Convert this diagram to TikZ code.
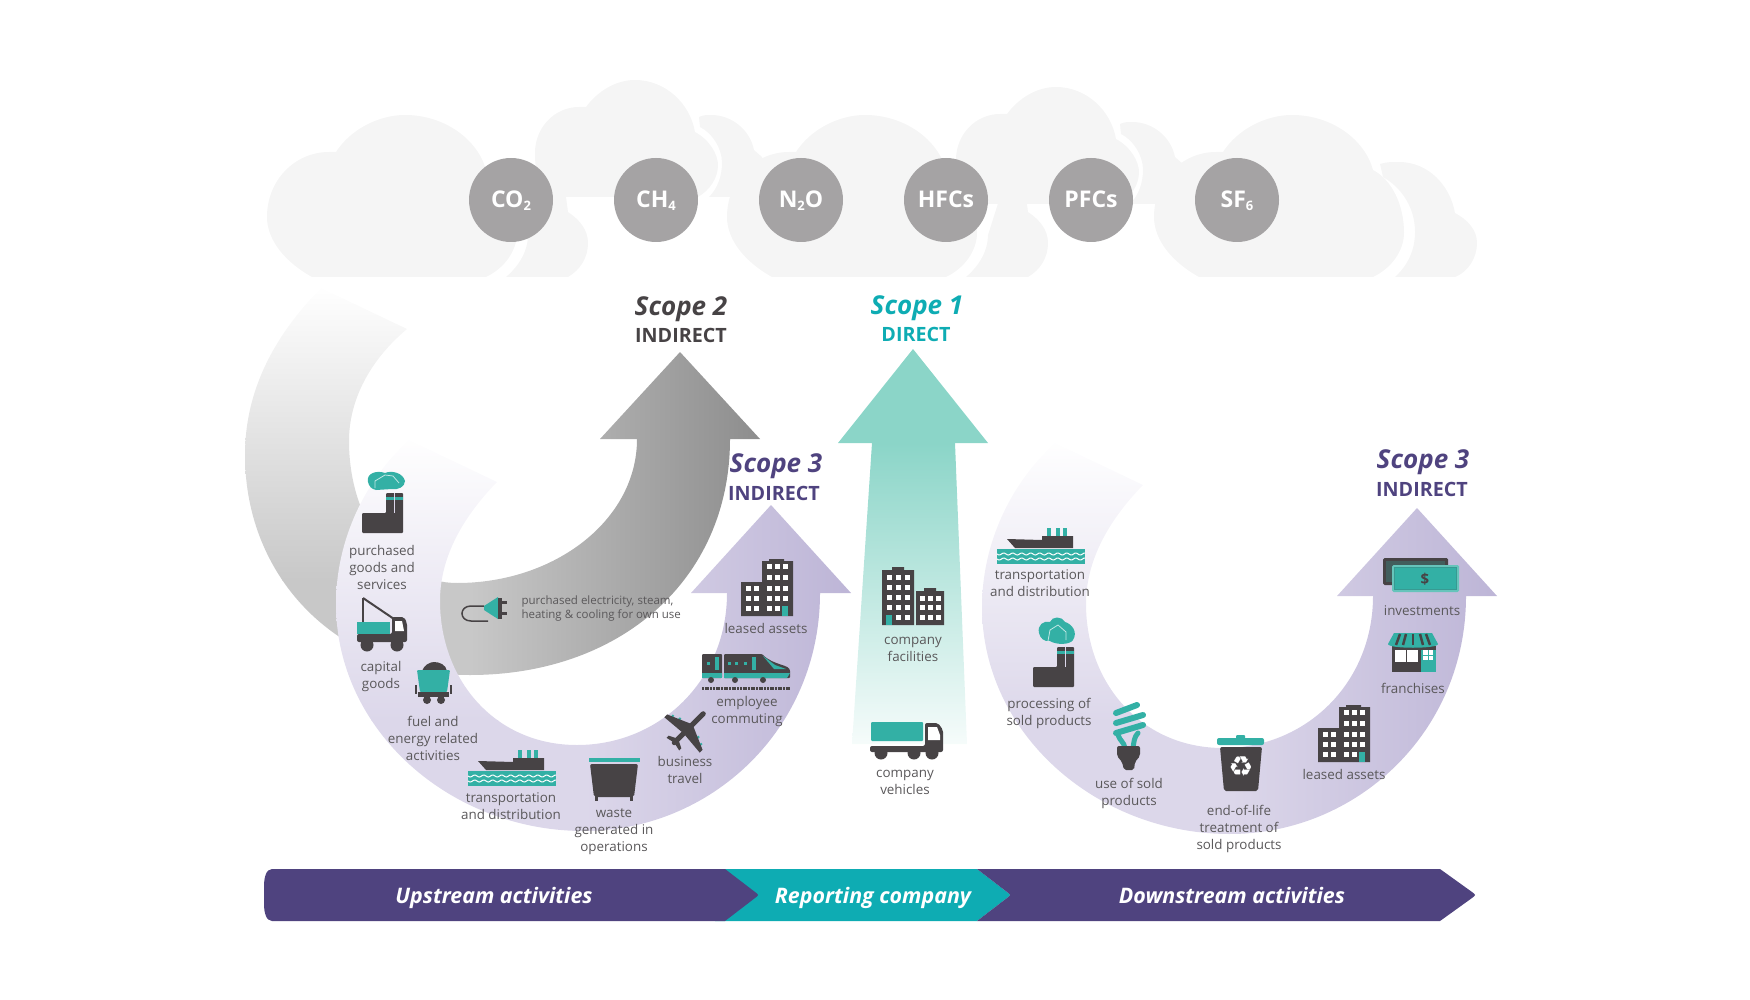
\documentclass[tikz,border=0pt]{standalone}
\usepackage{fontspec}
\setmainfont{Open Sans}
\newfontfamily\symbfont{DejaVu Sans}
\usepackage{xcolor}
\definecolor{darkicon}{HTML}{474345}
\definecolor{tealicon}{HTML}{33B0A5}
\definecolor{tealband}{HTML}{0EACB3}
\definecolor{purpleband}{HTML}{4F437F}
\definecolor{gasgray}{HTML}{A5A3A4}
\definecolor{cloudgray}{HTML}{F5F5F5}
\definecolor{labelgray}{HTML}{5A585A}
\definecolor{mintarrow}{HTML}{8BD5C8}
\definecolor{purplemid}{HTML}{DCD7EA}
\definecolor{purpleright}{HTML}{BCB4D6}
\definecolor{graymid}{HTML}{C8C8C8}
\definecolor{grayright}{HTML}{8C8C8C}
\newcommand{\gassub}[1]{\raisebox{-3pt}{\fontsize{13}{13}\selectfont #1}}
\tikzset{
  gas/.style={circle, fill=gasgray, minimum size=84pt, inner sep=0pt, text=white, text height=16pt, text depth=0pt, font=\bfseries\fontsize{23}{25}\selectfont},
  lbl/.style={align=center, text=labelgray, font=\fontsize{13.4}{17}\selectfont},
  scopename/.style={font=\bfseries\itshape\fontsize{26}{28}\selectfont},
  scopekind/.style={font=\bfseries\fontsize{19.7}{22}\selectfont},
  bandtext/.style={text=white, text height=16pt, text depth=0pt, font=\bfseries\itshape\fontsize{21.4}{24}\selectfont},
  pics/bigcloud/.style={code={
    \fill[cloudgray] (312,277) .. controls (285,262) and (267,240) .. (267,217) .. controls (267,180) and (295,152) .. (329,152) -- (336,152) .. controls (350,130) and (378,115) .. (405,115) .. controls (445,115) and (478,140) .. (486,170) .. controls (505,180) and (517,205) .. (517,233) .. controls (517,250) and (505,268) .. (486,277) -- cycle;
  }},
  pics/cloudtail/.style={code={
    \fill[cloudgray] (506,277) .. controls (520,265) and (528,250) .. (528,235) -- (540,197) -- (566,197) -- (568,212) .. controls (580,220) and (588,230) .. (588,243) .. controls (588,258) and (580,270) .. (568,277) -- cycle;
  }},
  pics/topcloud/.style={code={
    \fill[cloudgray] (545,197) .. controls (538,185) and (535,170) .. (535,153) .. controls (535,127) and (555,107) .. (579,107) -- (586,107) .. controls (597,92) and (615,80) .. (635,80) .. controls (665,80) and (690,103) .. (695,132) .. controls (710,140) and (718,155) .. (718,165) .. controls (718,178) and (710,190) .. (698,197) -- cycle;
    \fill[cloudgray] (709,197) .. controls (718,188) and (722,175) .. (722,163) .. controls (722,148) and (712,133) .. (700,127) -- (699,117) .. controls (703,115) and (707,115) .. (711,115) .. controls (732,115) and (750,130) .. (754,150) -- (762,157) -- (762,197) -- cycle;
  }},
  pics/uturn/.style={code={
    \begin{scope}
      \clip (409,440) .. controls (365,480) and (336,540) .. (336,604) .. controls (336,730) and (450,831) .. (584,831) .. controls (710,831) and (820,730) .. (820,593) -- (851,593) -- (771,505) -- (691,593) -- (727,593) .. controls (727,680) and (660,745) .. (577,745) .. controls (495,745) and (440,680) .. (440,601) .. controls (440,560) and (460,520) .. (497,482) -- cycle;
      \shade[top color=white, bottom color=purplemid] (325,435) rectangle (585,720);
      \fill[purplemid] (325,720) rectangle (585,835);
      \shade[left color=purplemid, right color=purpleright] (585,500) rectangle (860,835);
    \end{scope}
  }},
  pics/block/.style={code={
    \fill[darkicon] (21,23) -- (21,2) -- (28,2) -- (28,0) -- (43,0) -- (43,2) -- (52,2) -- (52,57) -- (0,57) -- (0,23) -- cycle;
    \foreach \wx in {28,36,44} \foreach \wy in {7,18,29,39,49} \fill[white] (\wx-2.5,\wy-2.5) rectangle +(5,5);
    \foreach \wx in {7,15} \foreach \wy in {29,39,49} \fill[white] (\wx-2.5,\wy-2.5) rectangle +(5,5);
    \fill[tealicon] (41,47) rectangle (47,57);
  }},
  pics/factory/.style={code={
    \fill[darkicon, rounded corners=1pt] (0,20) -- (24,20) -- (24,0) -- (41,0) -- (41,40) -- (0,40) -- cycle;
    \fill[tealicon] (24,4) rectangle (41,7);
    \fill[purplemid] (31.5,0) rectangle (33,20);
  }},
  pics/ship/.style={code={
    \foreach \fx in {50,59,66} \fill[tealicon] (\fx,0) rectangle +(3.5,8);
    \fill[darkicon] (10,11) -- (45,12) -- (45,8) -- (76,8) -- (76,20) -- (18,20) -- cycle;
    \fill[tealicon] (0,21) rectangle (88,36);
    \draw[white, line width=1pt] plot[domain=0:88, samples=70] (\x,{26+sin(\x*40)});
    \draw[white, line width=1pt] plot[domain=0:88, samples=70] (\x,{31+sin(\x*40)});
  }}
}
\begin{document}
\begin{tikzpicture}[x=1pt, y=-1pt]
  \useasboundingbox (0,0) rectangle (1750,1000);
  % clouds
  \pic at (0,0) {bigcloud};
  \pic at (0,0) {cloudtail};
  \pic at (0,0) {topcloud};
  \pic at (460,0) {bigcloud};
  \pic at (460,0) {cloudtail};
  \pic at (421,7) {topcloud};
  \pic at (887,0) {bigcloud};
  \fill[cloudgray] (1395,277) .. controls (1408,265) and (1415,250) .. (1415,232) .. controls (1415,208) and (1402,188) .. (1383,177) -- (1380,164) .. controls (1386,162) and (1392,162) .. (1399,162) .. controls (1428,162) and (1450,185) .. (1455,213) .. controls (1468,220) and (1477,230) .. (1477,243) .. controls (1477,258) and (1468,272) .. (1455,277) -- cycle;
  % gases
  \node[gas] (co2) at (511,200) {CO\gassub{2}};
  \node[gas] (ch4) at (656,200) {CH\gassub{4}};
  \node[gas] (n2o) at (801,200) {N\gassub{2}O};
  \node[gas] (hfcs) at (946,200) {HFCs};
  \node[gas] (pfcs) at (1091,200) {PFCs};
  \node[gas] (sf6) at (1237,200) {SF\gassub{6}};
  % scope 2 arrow
  \begin{scope}
    \clip (321,288) .. controls (270,340) and (245,395) .. (245,455) .. controls (245,580) and (340,675) .. (470,675) .. controls (620,675) and (730,580) .. (730,439) -- (760,439) -- (680,352) -- (600,439) -- (637,439) .. controls (637,520) and (555,583) .. (457,583) .. controls (395,583) and (349,520) .. (349,441) .. controls (349,400) and (370,360) .. (407,329) -- cycle;
    \shade[top color=white, bottom color=graymid] (240,285) rectangle (470,580);
    \fill[graymid] (240,580) rectangle (470,680);
    \shade[left color=graymid, right color=grayright] (470,345) rectangle (765,680);
  \end{scope}
  % scope 3 arrows
  \pic at (0,0) {uturn};
  \pic at (646,3) {uturn};
  % scope 1 arrow
  \fill[mintarrow] (913,349) -- (988,443) -- (838,443) -- cycle;
  \shade[top color=mintarrow, bottom color=white!92!mintarrow] (872,443) -- (955,443) -- (967,744) -- (852,744) -- cycle;
  % scope labels
  \node[scopename, text=darkicon] (scope2) at (681,309) {Scope 2};
  \node[scopekind, text=darkicon] (kind2) at (681,335) {INDIRECT};
  \node[scopename, text=tealband] (scope1) at (917,308) {Scope 1};
  \node[scopekind, text=tealband] (kind1) at (916,334) {DIRECT};
  \node[scopename, text=purpleband] (scope3a) at (776,466) {Scope 3};
  \node[scopekind, text=purpleband] (kind3a) at (774,493) {INDIRECT};
  \node[scopename, text=purpleband] (scope3b) at (1423,462) {Scope 3};
  \node[scopekind, text=purpleband] (kind3b) at (1422,489) {INDIRECT};
  % icons, upstream
  \fill[tealicon] (368,482) .. controls (366,473) and (377,470) .. (385,473) .. controls (392,470) and (403,473) .. (405,481) .. controls (405,487) and (398,490) .. (392,489) -- (376,490) .. controls (371,489) and (369,486) .. (368,482) -- cycle;
  \draw[white!70!tealicon, line width=0.8pt] (375,488) -- (375,481) -- (385,475) -- (393,476) -- (399,483);
  \pic at (362,493) {factory};
  \draw[darkicon, line width=2pt] (363,598) -- (363,623);
  \draw[darkicon, line width=2pt] (363,598) -- (394,619);
  \fill[tealicon] (357,622) rectangle (390,634);
  \fill[darkicon, rounded corners=2pt] (392,617) -- (404,617) -- (407,623) -- (407,642) -- (357,642) -- (357,634) -- (392,634) -- cycle;
  \fill[white] (395,621) -- (402,621) -- (404,631) -- (395,631) -- cycle;
  \foreach \wx in {367,397} \fill[darkicon] (\wx,645) circle (6.5);
  \fill[darkicon] (422,671) .. controls (424,665) and (430,662) .. (434,662) .. controls (440,662) and (446,665) .. (447,671) -- cycle;
  \fill[tealicon, rounded corners=1pt] (417,670) -- (450,670) -- (447,692) -- (420,692) -- cycle;
  \fill[darkicon] (415,685) rectangle (417,694);
  \fill[darkicon] (450,685) rectangle (452,694);
  \fill[darkicon] (418,692) rectangle (449,697);
  \foreach \wx in {427,441} \fill[darkicon] (\wx,700) circle (4);
  \pic at (468,750) {ship};
  \fill[tealicon] (589,758) rectangle (640,762);
  \fill[darkicon, rounded corners=2pt] (590,764) -- (638,764) -- (634,797) -- (594,797) -- cycle;
  \fill[darkicon] (595,796) rectangle (598,801);
  \fill[darkicon] (630,796) rectangle (633,801);
  \begin{scope}[shift={(687,730)}, rotate=45]
    \fill[tealicon] (-4,-21) rectangle (1,-19);
    \fill[tealicon] (-1,-14) rectangle (4,-12);
    \fill[tealicon] (-4,21) rectangle (1,19);
    \fill[tealicon] (-1,14) rectangle (4,12);
    \draw[darkicon, line width=5pt, line cap=round] (-18,0) -- (23,0);
    \fill[darkicon] (7,-2) -- (-3,-25) -- (-7,-25) -- (-5,-2) -- cycle;
    \fill[darkicon] (7,2) -- (-3,25) -- (-7,25) -- (-5,2) -- cycle;
    \fill[darkicon] (-13,-1) -- (-17,-9) -- (-20,-9) -- (-18,0) -- (-20,9) -- (-17,9) -- (-13,1) -- cycle;
  \end{scope}
  \begin{scope}[shift={(702,654)}]
    \fill[darkicon, rounded corners=1pt] (0,0) rectangle (20,24);
    \fill[darkicon, rounded corners=1pt] (22,0) -- (60,0) .. controls (72,12) and (88,10) .. (88,18) -- (88,24) -- (22,24) -- cycle;
    \fill[tealicon] (0,19) rectangle (20,24);
    \fill[tealicon] (22,19) -- (88,19) -- (85,24) -- (22,24) -- cycle;
    \fill[tealicon] (13,3) rectangle (17,16);
    \fill[tealicon] (50,3) rectangle (54,16);
    \fill[tealicon] (61,2) -- (73,11) -- (84,15) -- (72,15) -- cycle;
    \foreach \wx in {5,26,33,42} \fill[tealicon] (\wx,8) rectangle +(3,3);
    \foreach \wx in {9,33,61} \fill[darkicon] (\wx,26) circle (3);
    \draw[darkicon, line width=2.5pt, dash pattern=on 2pt off 0.7pt] (0,34.5) -- (88,34.5);
  \end{scope}
  \pic at (741,559) {block};
  \begin{scope}
    \draw[darkicon, line width=1.5pt] (488,621) -- (471,621) .. controls (459,621) and (459,606) .. (471,606) -- (484,606);
    \fill[tealicon] (484,606) -- (498,597) -- (498,619) -- (484,610) -- cycle;
    \fill[darkicon] (498,598) rectangle (502,619);
    \fill[darkicon] (502,601) rectangle (507,604);
    \fill[darkicon] (502,612) rectangle (507,615);
  \end{scope}
  % icons, reporting company
  \begin{scope}[shift={(882,567)}]
    \fill[darkicon] (0,3) -- (10,3) -- (10,0) -- (22,0) -- (22,3) -- (32,3) -- (32,58) -- (0,58) -- cycle;
    \fill[darkicon] (34,24) -- (42,24) -- (42,21) -- (54,21) -- (54,24) -- (62,24) -- (62,58) -- (34,58) -- cycle;
    \foreach \wx in {7,16,25} \foreach \wy in {10,20,30,40,50} \fill[white] (\wx-2.5,\wy-2.5) rectangle +(5,5);
    \foreach \wx in {40,48,56} \foreach \wy in {31,40,50} \fill[white] (\wx-2.5,\wy-2.5) rectangle +(5,5);
    \fill[tealicon] (4,48) rectangle (10,58);
  \end{scope}
  \begin{scope}[shift={(870,722)}]
    \fill[tealicon, rounded corners=1pt] (1,0) rectangle (53,19);
    \fill[darkicon, rounded corners=2pt] (55,1) -- (68,1) -- (73,8) -- (73,30) -- (0,30) -- (0,24) -- (55,24) -- cycle;
    \fill[white] (58,5) -- (67,5) -- (70,13) -- (70,18) -- (58,18) -- cycle;
    \foreach \wx in {11,44,62} \fill[darkicon] (\wx,31) circle (6.5);
  \end{scope}
  % icons, downstream
  \pic at (997,528) {ship};
  \fill[tealicon] (1039,633) .. controls (1037,625) and (1044,620) .. (1050,622) .. controls (1052,616) and (1062,616) .. (1065,622) .. controls (1072,624) and (1078,632) .. (1073,640) .. controls (1070,645) and (1056,645) .. (1050,641) .. controls (1044,642) and (1040,638) .. (1039,633) -- cycle;
  \draw[white!70!tealicon, line width=0.8pt] (1048,641) -- (1050,630) -- (1058,625) -- (1066,632) -- (1066,640);
  \pic at (1033,647) {factory};
  \foreach \by/\bw in {709/1137,719/1143,729/1143} \draw[tealicon, line width=6pt, line cap=round] (1116,\by+4) -- (\bw,\by-4);
  \draw[tealicon, line width=5pt, line cap=round] (1118,735) .. controls (1120,741) and (1124,742) .. (1125,748);
  \draw[tealicon, line width=5pt, line cap=round] (1138,733) .. controls (1134,737) and (1134,742) .. (1133,748);
  \fill[darkicon, rounded corners=2pt] (1117,746) -- (1140,746) -- (1140,756) -- (1135,762) -- (1134,770) -- (1124,770) -- (1122,762) -- (1117,756) -- cycle;
  \fill[tealicon, rounded corners=2pt] (1217,738) rectangle (1264,745);
  \fill[tealicon, rounded corners=1pt] (1236,735) rectangle (1245,739);
  \fill[darkicon, rounded corners=2pt] (1220,747) -- (1262,747) -- (1258,791) -- (1224,791) -- cycle;
  \node[text=white, font=\symbfont\fontsize{28}{28}\selectfont, inner sep=0pt] (recycle) at (1241,767) {♻};
  \pic at (1318,705) {block};
  \begin{scope}[shift={(1388,633)}]
    \fill[darkicon] (4,13) rectangle (48,39);
    \fill[white] (7,17) rectangle (18,29);
    \fill[white] (19,17) rectangle (30,29);
    \fill[tealicon] (33,17) rectangle (48,39);
    \fill[white] (35,17) rectangle (45,27);
    \draw[tealicon, line width=1pt] (40,17) -- (40,27) (35,22) -- (45,22);
    \fill[tealicon] (6,0) -- (44,0) -- (50,11) .. controls (50,16) and (0,16) .. (0,11) -- cycle;
    \foreach \sx/\sb in {12/8,18/15,25/25,32/35,38/42} \draw[darkicon, line width=2.5pt] (\sx,1) -- (\sb,12);
  \end{scope}
  \fill[darkicon, rounded corners=1.5pt] (1383,558) rectangle (1448,585);
  \fill[darkicon!75!tealicon] (1386,561) rectangle (1445,582);
  \fill[tealicon!75!white, rounded corners=1.5pt] (1392,565) rectangle (1459,592);
  \fill[tealicon!80!darkicon] (1394,567) rectangle (1457,590);
  \fill[tealicon] (1395,568) rectangle (1456,589);
  \node[text=darkicon, font=\bfseries\fontsize{15}{15}\selectfont, inner sep=0pt] (dollar) at (1425,579) {\$};
  % activity labels
  \node[lbl] (goods) at (382,567) {purchased\\goods and\\services};
  \node[lbl] (capital) at (381,677) {capital\\goods};
  \node[lbl] (fuel) at (433,738) {fuel and\\energy related\\activities};
  \node[lbl] (transport) at (511,806) {transportation\\and distribution};
  \node[lbl] (waste) at (614,832) {waste\\generated in\\operations};
  \node[lbl] (travel) at (685,770) {business\\travel};
  \node[lbl] (commute) at (747,712) {employee\\commuting};
  \node[lbl] (leased) at (766,628) {leased assets};
  \node[lbl, align=left, font=\fontsize{11.5}{14}\selectfont, anchor=west] (electricity) at (518,609) {purchased electricity, steam,\\heating \& cooling for own use};
  \node[lbl] (facilities) at (913,649) {company\\facilities};
  \node[lbl] (vehicles) at (905,782) {company\\vehicles};
  \node[lbl] (transportb) at (1040,583) {transportation\\and distribution};
  \node[lbl] (processing) at (1049,713) {processing of\\sold products};
  \node[lbl] (use) at (1129,793) {use of sold\\products};
  \node[lbl] (endoflife) at (1239,829) {end-of-life\\treatment of\\sold products};
  \node[lbl] (leasedb) at (1344,774) {leased assets};
  \node[lbl] (franchises) at (1413,688) {franchises};
  \node[lbl] (investments) at (1422,611) {investments};
  % bottom band
  \fill[tealband] (715,869) -- (977,869) -- (1007,892) .. controls (1011,895) .. (1007,898) -- (977,921) -- (715,921) -- cycle;
  \fill[purpleband] (272,869) -- (725,869) -- (755,892) .. controls (759,895) .. (755,898) -- (725,921) -- (272,921) .. controls (266,921) and (264,912) .. (264,904) -- (264,886) .. controls (264,878) and (266,869) .. (272,869) -- cycle;
  \fill[purpleband] (977,869) -- (1440,869) -- (1472,892) .. controls (1476,895) .. (1472,898) -- (1440,921) -- (977,921) -- (1007,898) .. controls (1011,895) .. (1007,892) -- cycle;
  \node[bandtext] (upstream) at (494,895) {Upstream activities};
  \node[bandtext] (reporting) at (873,895) {Reporting company};
  \node[bandtext] (downstream) at (1232,895) {Downstream activities};
\end{tikzpicture}
\end{document}
